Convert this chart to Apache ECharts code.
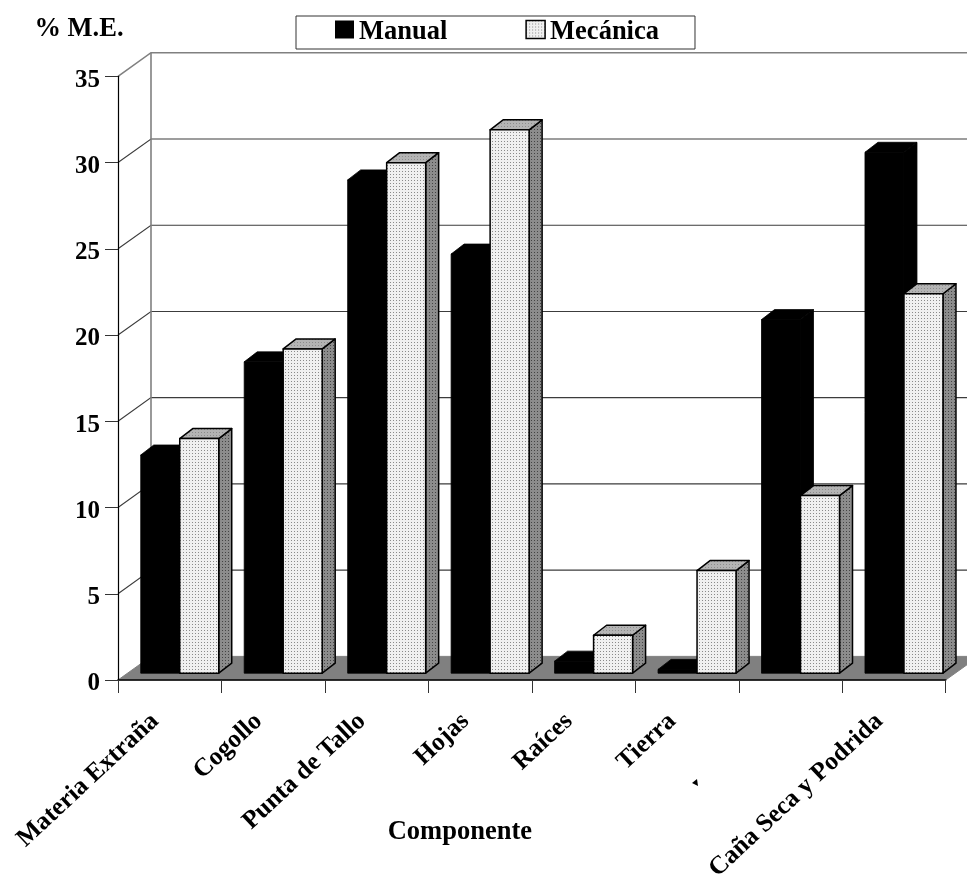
<!DOCTYPE html>
<html><head><meta charset="utf-8">
<style>html,body{margin:0;padding:0;background:#fff}#c{width:967px;height:876px}</style>
<script src="https://cdn.jsdelivr.net/npm/echarts@6/dist/echarts.min.js"></script>
</head><body><div id="c"></div>
<script>
const categories = ['Materia Extraña','Cogollo','Punta de Tallo','Hojas','Raíces','Tierra','','Caña Seca y Podrida'];
const manual = [12.65,18.05,28.6,24.3,0.7,0.22,20.5,30.2];
const mecanica = [13.6,18.8,29.6,31.5,2.2,5.95,10.3,22.0];
const wallTicks = [0,5,10,15,20,25,30,35];
const FONT = '"Liberation Serif","Times New Roman",serif';
const WALL = [33,23.6], BAR = [13,10], BAR_W = 39;

function dots(bg, dot){
  const c = document.createElement('canvas'); c.width = 3; c.height = 3;
  const g = c.getContext('2d');
  g.fillStyle = bg; g.fillRect(0,0,3,3);
  g.fillStyle = dot; g.fillRect(0,0,1,1);
  return {image:c, repeat:'repeat'};
}
const pFront = dots('#f0f0f0','#8a8a8a'), pTop = dots('#b4b4b4','#8c8c8c'), pSide = dots('#8c8c8c','#444444');

const poly = (points, style) => ({type:'polygon', shape:{points}, style});
function barItem(side, fills, stroke, lw){
  return function(params, api){
    const p = api.coord([api.value(0), api.value(1)]);
    const base = api.coord([api.value(0), 0])[1] - (WALL[1]-BAR[1])/2;
    const cx = p[0] + (WALL[0]-BAR[0])/2;
    const top = p[1] - (WALL[1]-BAR[1])/2;
    const x0 = side < 0 ? cx-BAR_W : cx, x1 = side < 0 ? cx : cx+BAR_W;
    const st = f => ({fill:f, stroke, lineWidth:lw, lineJoin:'round'});
    return {type:'group', children:[
      poly([[x1,base],[x1+BAR[0],base-BAR[1]],[x1+BAR[0],top-BAR[1]],[x1,top]], st(fills[2])),
      poly([[x0,top],[x1,top],[x1+BAR[0],top-BAR[1]],[x0+BAR[0],top-BAR[1]]], st(fills[1])),
      poly([[x0,base],[x1,base],[x1,top],[x0,top]], st(fills[0]))
    ]};
  };
}
function wallItem(params, api){
  const cs = params.coordSys, v = api.value(0), y = api.coord([0,v])[1];
  const L = cs.x, R = cs.x+cs.width, bx = L+WALL[0], by = y-WALL[1];
  const children = [];
  if(v === 0){
    children.push(poly([[L,y],[bx,by],[R+WALL[0],by],[R,y]], {fill:'#808080', stroke:'#808080', lineWidth:1}));
  } else {
    const top = v === wallTicks[wallTicks.length-1];
    const col = top ? '#808080' : '#3c3c3c';
    children.push({type:'polyline', shape:{points:[[L,y],[bx,by],[R+WALL[0],by]]}, style:{fill:null, stroke:col, lineWidth: top?1.6:1.1}});
    if(top){
      const y0 = api.coord([0,0])[1]-WALL[1];
      children.push({type:'line', shape:{x1:bx,y1:by,x2:bx,y2:y0}, style:{stroke:'#808080', lineWidth:1.6}});
    }
  }
  return {type:'group', children};
}
const chart = echarts.init(document.getElementById('c'), null, {renderer:'canvas'});
chart.setOption({
  backgroundColor:'#fff', animation:false,
  grid:{left:118, top:76.3, width:827.7, height:603.7, containLabel:false, outerBoundsMode:'none'},
  legend:{
    left:296, top:16, padding:[3,36,3,39], itemGap:78, itemWidth:19, itemHeight:18,
    backgroundColor:'#fff', borderColor:'#333', borderWidth:1, selectedMode:false,
    formatter:'{t|{name}}',
    textStyle:{fontFamily:FONT, fontWeight:'bold', fontSize:26.5, color:'#000',
      rich:{t:{padding:[6,0,0,0], fontFamily:FONT, fontWeight:'bold', fontSize:26.5, color:'#000'}}},
    data:[
      {name:'Manual', icon:'rect', itemStyle:{color:'#000'}},
      {name:'Mecánica', icon:'rect', itemStyle:{color:pFront, borderColor:'#000', borderWidth:1.5}}
    ]
  },
  xAxis:{
    type:'category', data:categories, z:10,
    name:'Componente', nameLocation:'middle', nameGap:139, nameMoveOverlap:false,
    nameTextStyle:{fontFamily:FONT, fontWeight:'bold', fontSize:26.5, color:'#000', padding:[0,144,0,0]},
    axisLine:{lineStyle:{color:'#000', width:1.6}},
    axisTick:{show:true, length:13, alignWithLabel:false, lineStyle:{color:'#333', width:1}},
    axisLabel:{interval:0, rotate:43, margin:24, padding:[0,20,0,0], hideOverlap:false, fontFamily:FONT, fontWeight:'bold', fontSize:25.5, color:'#000'}
  },
  yAxis:{
    type:'value', min:0, max:35, interval:5, z:10,
    name:'% M.E.', nameLocation:'end', nameGap:34, nameMoveOverlap:false,
    nameTextStyle:{fontFamily:FONT, fontWeight:'bold', fontSize:26.5, color:'#000', align:'center', padding:[0,78,0,0]},
    splitLine:{show:false},
    axisLine:{show:true, lineStyle:{color:'#000', width:1.2}},
    axisTick:{show:true, length:13, lineStyle:{color:'#333', width:1}},
    axisLabel:{margin:18, formatter:'{n|{value}}', rich:{n:{padding:[8,0,0,0], fontFamily:FONT, fontWeight:'bold', fontSize:25, color:'#000'}}, fontFamily:FONT, fontWeight:'bold', fontSize:25, color:'#000'}
  },
  graphic:[{type:'polygon', shape:{points:[[692,783],[697,779],[698,786]]}, style:{fill:'#000'}}],
  series:[
    {type:'custom', name:'Pared', silent:true, z:1, clip:false, data:wallTicks.map(v=>[v]), encode:{y:0}, renderItem:wallItem},
    {type:'custom', name:'Manual', z:2, clip:false, itemStyle:{color:'#000'}, data:manual.map((v,i)=>[i,v]), encode:{x:0,y:1},
      renderItem:barItem(-1,['#000','#000','#000'],'#000',0.8)},
    {type:'custom', name:'Mecánica', z:3, clip:false, itemStyle:{color:'#ddd'}, data:mecanica.map((v,i)=>[i,v]), encode:{x:0,y:1},
      renderItem:barItem(1,[pFront,pTop,pSide],'#000',1.5)}
  ]
});
</script></body></html>
